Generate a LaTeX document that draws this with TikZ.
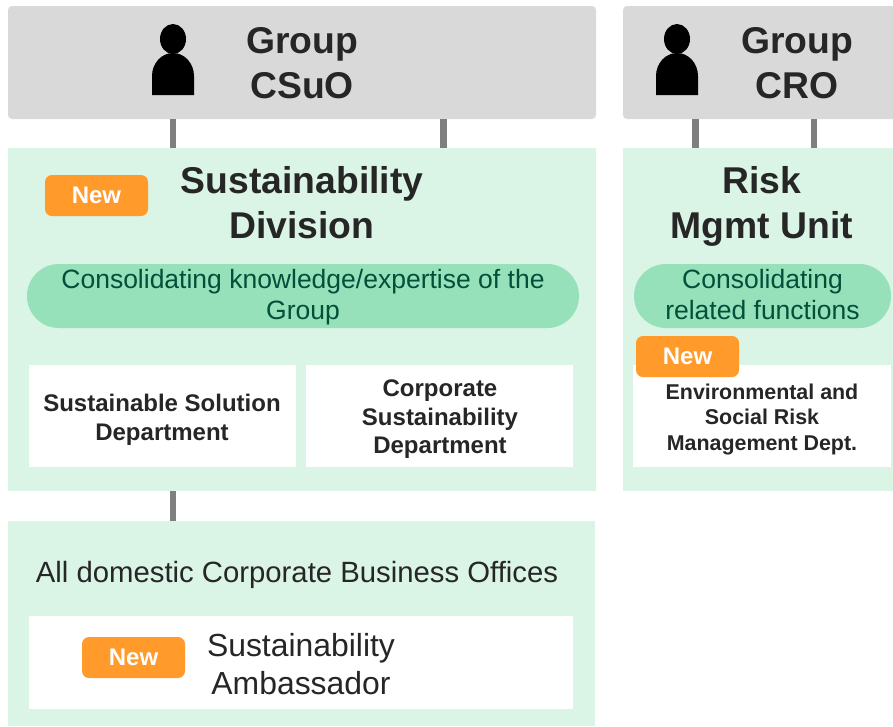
\documentclass[tikz,border=0pt]{standalone}
\usepackage{fontspec}
\setmainfont{Liberation Sans}
\usetikzlibrary{shapes.geometric}
\definecolor{textdark}{HTML}{262626}
\definecolor{textgreen}{HTML}{00503A}
\definecolor{boxgray}{HTML}{D9D9D9}
\definecolor{boxgreen}{HTML}{DAF4E6}
\definecolor{pillgreen}{HTML}{96E0BA}
\definecolor{tagorange}{HTML}{FF9A2B}
\definecolor{linegray}{HTML}{7F7F7F}
\tikzset{
    every node/.style={inner sep=0pt, outer sep=0pt, align=center, text=textdark}
}
\tikzset{
    every edge/.append style={line width=6.5pt, draw=linegray}
}
\tikzset{
    headbox/.style={rectangle, fill=boxgray, rounded corners=4pt},
    unitbox/.style={rectangle, fill=boxgreen},
    pillbox/.style={rectangle, fill=pillgreen, rounded corners=31.9pt},
    pilltext/.style={text=textgreen, font=\fontsize{26.5}{31.5}\selectfont},
    deptbox/.style={rectangle, fill=white},
    newtag/.style={rectangle, fill=tagorange, rounded corners=7pt, minimum width=103pt,
    	minimum height=41pt, text=white, font=\fontsize{24}{28}\selectfont\bfseries},
    titletext/.style={font=\fontsize{37.3}{45}\selectfont\bfseries},
    depttext/.style={font=\fontsize{24}{29}\selectfont\bfseries},
    headperson/.style={ellipse, fill=black, minimum width=26pt, minimum height=30pt}
}

\begin{document}
\begin{tikzpicture}[x=1pt, y=-1pt]
	\clip (0,0) rectangle (893,726);
	\fill[white] (0,0) rectangle (893,726);

	\node (csuo) [headbox, minimum width=588pt, minimum height=113pt] at (302,62.5) {};
	\node (cro) [headbox, minimum width=290pt, minimum height=113pt] at (768,62.5) {};
	\node (sustdiv) [unitbox, minimum width=588pt, minimum height=343pt] at (302,319.5) {};
	\node (riskunit) [unitbox, minimum width=290pt, minimum height=343pt] at (768,319.5) {};
	\node (offices) [unitbox, minimum width=587pt, minimum height=205pt] at (301.5,623.5) {};

	\coordinate (x1) at (173,0);
	\coordinate (x2) at (443.5,0);
	\coordinate (x3) at (695.5,0);
	\coordinate (x4) at (814,0);
	\draw (csuo.south -| x1) edge (sustdiv.north -| x1);
	\draw (csuo.south -| x2) edge (sustdiv.north -| x2);
	\draw (cro.south -| x3) edge (riskunit.north -| x3);
	\draw (cro.south -| x4) edge (riskunit.north -| x4);
	\draw (sustdiv.south -| x1) edge (offices.north -| x1);

	\node (head1) [headperson] at (173,39) {};
	\fill (152,95) -- (152,76) arc[start angle=180, end angle=0, x radius=21pt, y radius=23pt]
		-- (194,95) -- cycle;
	\node (head2) [headperson] at (677,39) {};
	\fill (656,95) -- (656,76) arc[start angle=180, end angle=0, x radius=21pt, y radius=23pt]
		-- (698,95) -- cycle;

	\node (csuolabel) [titletext] at (302,63.5) {Group\\CSuO};
	\node (crolabel) [titletext] at (797,63.5) {Group\\CRO};
	\node (sustlabel) [titletext] at (302,203) {Sustainability\\Division};
	\node (risklabel) [titletext] at (762,206) {Risk\\Mgmt Unit};

	\node (sustpill) [pillbox, minimum width=552pt, minimum height=64pt] at (303,296) {};
	\node (sustpilltext) [pilltext] at (303,297) {Consolidating knowledge/expertise of the\\Group};
	\node (riskpill) [pillbox, minimum width=257pt, minimum height=64pt] at (762.5,296) {};
	\node (riskpilltext) [pilltext] at (762.5,294.5) {Consolidating\\related functions};

	\node (solution) [deptbox, minimum width=267pt, minimum height=102pt] at (162.5,416) {};
	\node (solutiontext) [depttext] at (162,420) {Sustainable Solution\\Department};
	\node (corporate) [deptbox, minimum width=267pt, minimum height=102pt] at (439.5,416) {};
	\node (corporatetext) [depttext, font=\fontsize{24}{28.5}\selectfont\bfseries] at (440,419.5)
		{Corporate\\Sustainability\\Department};
	\node (envrisk) [deptbox, minimum width=258pt, minimum height=102pt] at (762,416) {};
	\node (envrisktext) [font=\fontsize{21.4}{25.7}\selectfont\bfseries] at (762,419.5)
		{Environmental and\\Social Risk\\Management Dept.};

	\node (officestext) [font=\fontsize{29.3}{32}\selectfont] at (297,574.5)
		{All domestic Corporate Business Offices};
	\node (ambassador) [deptbox, minimum width=544pt, minimum height=93pt] at (301,662.5) {};
	\node (ambassadortext) [font=\fontsize{31.9}{38}\selectfont] at (301,664)
		{Sustainability\\Ambassador};

	\node (new1) [newtag] at (96.5,195.5) {New};
	\node (new2) [newtag] at (687.5,356.5) {New};
	\node (new3) [newtag] at (133.5,657.5) {New};
\end{tikzpicture}
\end{document}
